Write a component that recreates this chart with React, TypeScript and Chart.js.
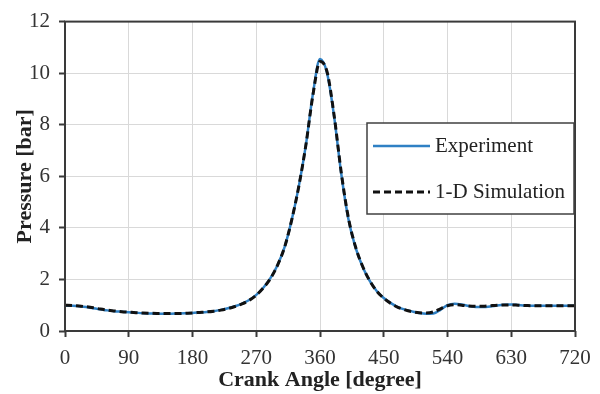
import React, { useEffect, useRef } from "react";
import { Chart, registerables } from "chart.js";

Chart.register(...registerables);

const crankAngle = [
  0, 10, 20, 30, 40, 50, 60, 70, 80, 90, 100, 110, 120, 130, 140, 150, 160, 170, 180,
  190, 200, 210, 220, 230, 240, 250, 260, 270, 280, 290, 300, 310, 320, 330, 340, 350, 360,
  370, 380, 390, 400, 410, 420, 430, 440, 450, 460, 470, 480, 490, 500, 510, 520, 530, 540,
  550, 560, 570, 580, 590, 600, 610, 620, 630, 640, 650, 660, 670, 680, 690, 700, 710, 720,
];

const experiment = [
  0.98, 0.98, 0.96, 0.93, 0.88, 0.84, 0.8, 0.77, 0.75, 0.73, 0.71, 0.69, 0.68, 0.67, 0.67, 0.67, 0.68, 0.69, 0.7,
  0.72, 0.74, 0.77, 0.82, 0.88, 0.96, 1.06, 1.2, 1.4, 1.68, 2.05, 2.55, 3.25, 4.3, 5.6, 7.2, 9.2, 10.55,
  10.0, 8.3, 6.1, 4.35, 3.25, 2.5, 1.95, 1.55, 1.28, 1.08, 0.93, 0.83, 0.76, 0.7, 0.67, 0.68, 0.82, 1.0,
  1.06, 1.03, 0.97, 0.93, 0.93, 0.95, 0.99, 1.02, 1.03, 1.01, 0.99, 0.98, 0.98, 0.98, 0.98, 0.98, 0.98, 0.98,
];

const simulation = [
  1.0, 0.99, 0.97, 0.94, 0.9, 0.85, 0.81, 0.78, 0.75, 0.73, 0.71, 0.7, 0.69, 0.68, 0.68, 0.68, 0.68, 0.69, 0.7,
  0.72, 0.74, 0.77, 0.81, 0.87, 0.95, 1.05, 1.19, 1.39, 1.67, 2.03, 2.55, 3.25, 4.3, 5.6, 7.2, 9.15, 10.45,
  10.05, 8.35, 6.15, 4.4, 3.28, 2.52, 1.96, 1.55, 1.27, 1.07, 0.92, 0.82, 0.75, 0.71, 0.7, 0.74, 0.86, 0.98,
  1.02, 1.0, 0.97, 0.96, 0.96, 0.98, 1.0, 1.01, 1.01, 1.0, 0.99, 0.98, 0.98, 0.98, 0.98, 0.98, 0.98, 0.98,
];

const xTickLabels = [0, 90, 180, 270, 360, 450, 540, 630, 720];
const yTickLabels = [0, 2, 4, 6, 8, 10, 12];

const seriesNames = ["Experiment", "1-D Simulation"];
const xTitle = "Crank Angle [degree]";
const yTitle = "Pressure [bar]";

const SERIF = "'Liberation Serif', 'Times New Roman', serif";

const framePlugin = {
  id: "frameAndLegend",
  afterDatasetsDraw(chart: any) {
    const { ctx, chartArea } = chart;
    const { left, top, right, bottom } = chartArea;
    ctx.save();
    ctx.strokeStyle = "#3a3a3a";
    ctx.lineWidth = 2;
    ctx.strokeRect(left, top, right - left, bottom - top);

    const bx = 367;
    const by = 123;
    const bw = 207;
    const bh = 91;
    ctx.fillStyle = "#ffffff";
    ctx.fillRect(bx, by, bw, bh);
    ctx.strokeStyle = "#404040";
    ctx.lineWidth = 1.5;
    ctx.strokeRect(bx, by, bw, bh);

    const rows = [146, 192];
    chart.data.datasets.forEach((ds: any, i: number) => {
      const y = rows[i];
      ctx.beginPath();
      ctx.strokeStyle = ds.borderColor;
      ctx.lineWidth = ds.borderWidth;
      ctx.setLineDash(ds.borderDash || []);
      ctx.moveTo(373, y);
      ctx.lineTo(430, y);
      ctx.stroke();
      ctx.setLineDash([]);
      ctx.fillStyle = "#222222";
      ctx.font = `21px ${SERIF}`;
      ctx.textAlign = "left";
      ctx.textBaseline = "middle";
      ctx.fillText(ds.label, 435, y);
    });
    ctx.restore();
  },
};

export default function App() {
  const canvasRef = useRef<HTMLCanvasElement | null>(null);

  useEffect(() => {
    const canvas = canvasRef.current;
    if (!canvas) return;

    const expData = crankAngle.map((a, i) => ({ x: a, y: experiment[i] }));
    const simData = crankAngle.map((a, i) => ({ x: a, y: simulation[i] }));

    const chart = new Chart(canvas, {
      type: "line",
      data: {
        datasets: [
          {
            label: seriesNames[0],
            data: expData,
            borderColor: "#2f80c4",
            borderWidth: 2.5,
            pointRadius: 0,
            cubicInterpolationMode: "monotone",
            fill: false,
            order: 2,
          },
          {
            label: seriesNames[1],
            data: simData,
            borderColor: "#111111",
            borderWidth: 3,
            borderDash: [7, 4],
            pointRadius: 0,
            cubicInterpolationMode: "monotone",
            fill: false,
            order: 1,
          },
        ],
      },
      options: {
        responsive: false,
        animation: false,
        layout: { padding: { top: 20, right: 25, bottom: 0, left: 0 } },
        plugins: {
          legend: { display: false },
          tooltip: { enabled: false },
        },
        scales: {
          x: {
            type: "linear",
            min: 0,
            max: 720,
            afterFit: (s: any) => {
              s.height = 63;
            },
            afterBuildTicks: (s: any) => {
              s.ticks = xTickLabels.map((v) => ({ value: v }));
            },
            ticks: {
              color: "#333333",
              font: { family: SERIF, size: 21 },
              padding: 9,
              maxRotation: 0,
              autoSkip: false,
            },
            grid: {
              color: "#d9d9d9",
              lineWidth: 1,
              tickColor: "#3a3a3a",
              tickLength: 6,
              tickWidth: 2,
              drawTicks: true,
            },
            border: { display: false },
            title: {
              display: true,
              text: xTitle,
              color: "#222222",
              font: { family: SERIF, size: 22, weight: "bold" },
              padding: { top: 0, bottom: 0 },
            },
          },
          y: {
            type: "linear",
            min: 0,
            max: 12,
            afterFit: (s: any) => {
              s.width = 65;
            },
            afterBuildTicks: (s: any) => {
              s.ticks = yTickLabels.map((v) => ({ value: v }));
            },
            ticks: {
              color: "#333333",
              font: { family: SERIF, size: 21 },
              padding: 9,
            },
            grid: {
              color: "#d9d9d9",
              lineWidth: 1,
              tickColor: "#3a3a3a",
              tickLength: 6,
              tickWidth: 2,
            },
            border: { display: false },
            title: {
              display: true,
              text: yTitle,
              color: "#222222",
              font: { family: SERIF, size: 22, weight: "bold" },
              padding: { top: 12, bottom: 0 },
            },
          },
        },
      },
      plugins: [framePlugin],
    } as any);

    return () => chart.destroy();
  }, []);

  return (
    <div style={{ position: "fixed", left: 0, top: 0, width: 600, height: 394, background: "#ffffff" }}>
      <canvas ref={canvasRef} width={600} height={394} />
    </div>
  );
}
